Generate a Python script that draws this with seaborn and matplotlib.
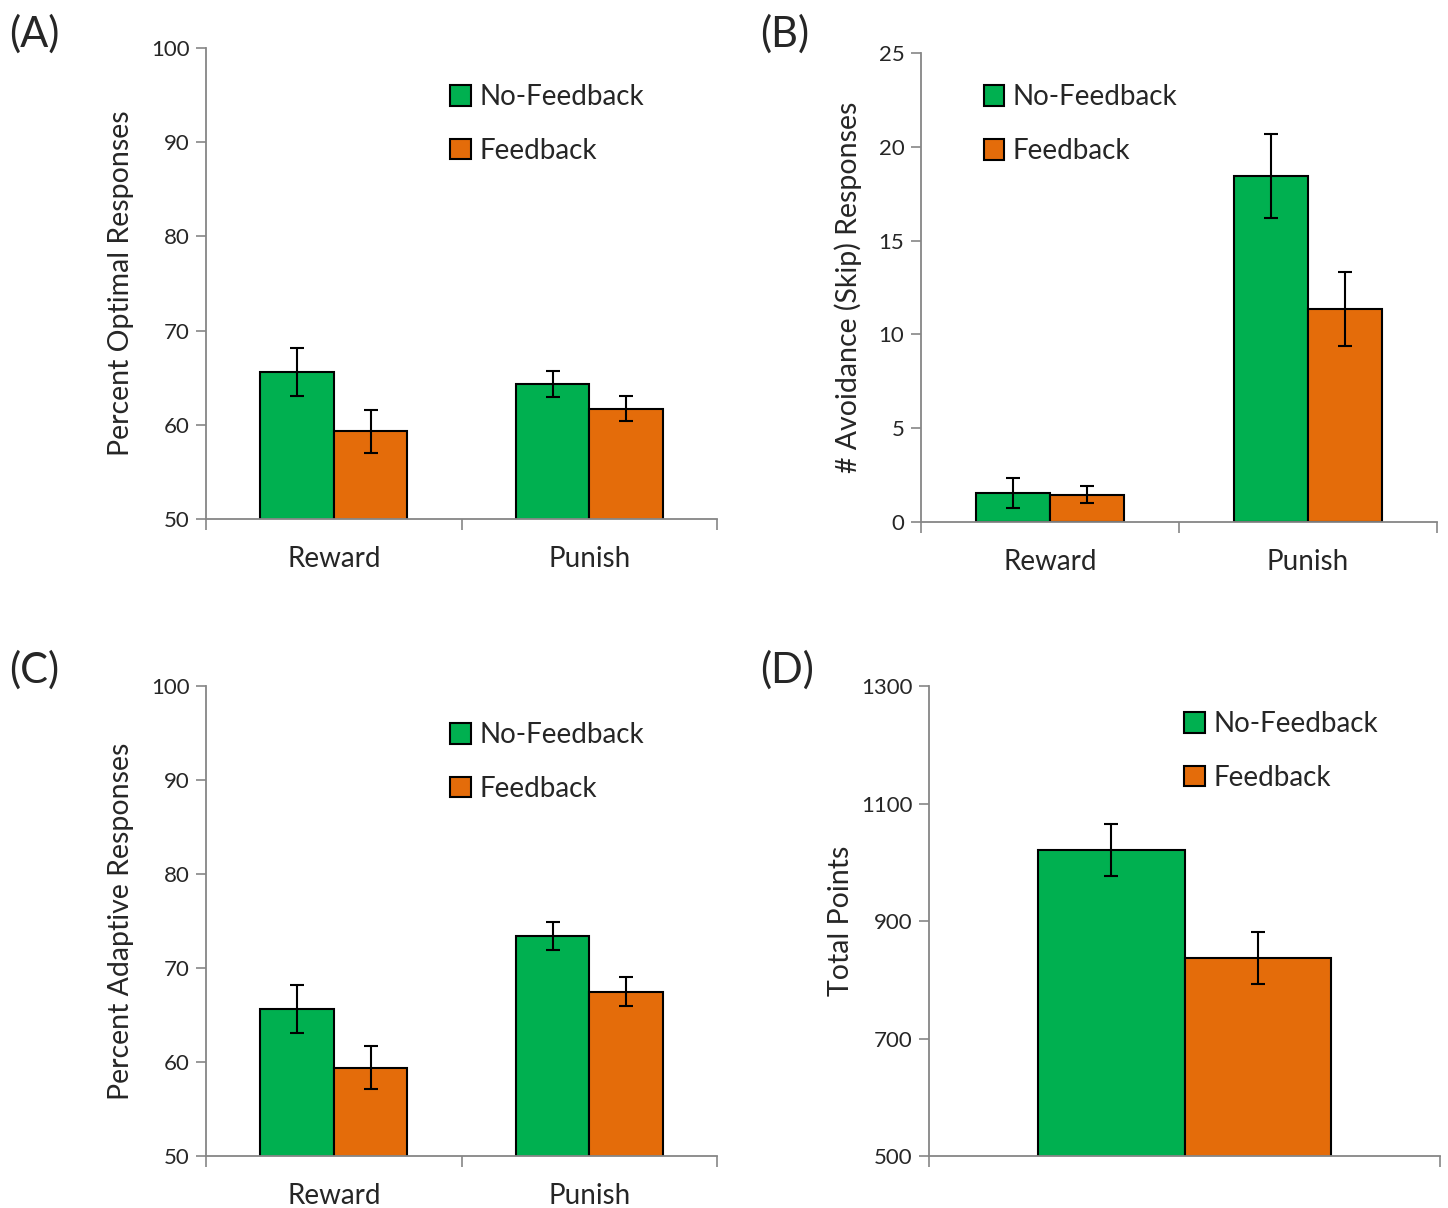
import numpy as np
import pandas as pd
import seaborn as sns
import matplotlib.pyplot as plt
from matplotlib.patches import Patch

sns.set_style("white")
plt.rcParams['font.family'] = ['Lato', 'DejaVu Sans']

groups = ["No-Feedback", "Feedback"]
colors = ["#00B050", "#E46C0A"]
conds = ["Reward", "Punish"]

# (A) percent optimal responses
optimal_nf = [65.6, 64.3]
optimal_f = [59.3, 61.7]
optimal_nf_err = [2.6, 1.4]
optimal_f_err = [2.3, 1.3]

# (B) avoidance (skip) responses
skip_nf = [1.55, 18.45]
skip_f = [1.45, 11.35]
skip_nf_err = [0.78, 2.25]
skip_f_err = [0.45, 1.95]

# (C) percent adaptive responses
adaptive_nf = [65.6, 73.4]
adaptive_f = [59.4, 67.5]
adaptive_nf_err = [2.55, 1.5]
adaptive_f_err = [2.3, 1.5]

# (D) total points
points_nf = [1021]
points_f = [837]
points_nf_err = [45]
points_f_err = [44]


def panel(ax, cats, nf, f, nf_err, f_err, ylim, yticks, ylabel, label_x,
          tag, tag_xy, leg_xy):
    df = pd.DataFrame({
        "cond": list(cats) * 2,
        "group": [groups[0]] * len(cats) + [groups[1]] * len(cats),
        "value": list(nf) + list(f),
    })
    sns.barplot(data=df, x="cond", y="value", hue="group", order=cats,
                hue_order=groups, palette=colors, saturation=1, width=0.575,
                gap=0, edgecolor="black", linewidth=1.5, errorbar=None,
                legend=False, ax=ax)
    for cont, err in zip(ax.containers, [nf_err, f_err]):
        xs = [p.get_x() + p.get_width() / 2 for p in cont.patches]
        ys = [p.get_height() + p.get_y() for p in cont.patches]
        ax.errorbar(xs, ys, yerr=err, fmt="none", ecolor="black",
                    elinewidth=1.5, capsize=5, capthick=1.5, zorder=5)

    ax.set_ylim(*ylim)
    ax.set_yticks(yticks)
    n = len(cats)
    ax.set_xlim(-0.5, n - 0.5)
    ax.set_xticks(np.arange(n + 1) - 0.5, minor=True)
    ax.tick_params(axis="x", which="major", bottom=False, labelsize=20, pad=16)
    ax.tick_params(axis="x", which="minor", bottom=True, length=8, width=1.2,
                   color="#868686", direction="out")
    ax.tick_params(axis="y", left=True, length=7, width=1.2, color="#868686",
                   direction="out", labelsize=16, pad=5)
    ax.set_xlabel("")
    ax.set_ylabel(ylabel, fontsize=20.5)
    ax.yaxis.set_label_coords(label_x, 0.5)
    for s in ["top", "right"]:
        ax.spines[s].set_visible(False)
    for s in ["left", "bottom"]:
        ax.spines[s].set_color("#868686")
        ax.spines[s].set_linewidth(1.3)

    handles = [Patch(facecolor=c, edgecolor="black", linewidth=1.5) for c in colors]
    ax.legend(handles, groups, loc="upper left", bbox_to_anchor=leg_xy,
              frameon=False, fontsize=20, handlelength=0.75, handleheight=0.75,
              handletextpad=0.3, labelspacing=1.0, borderaxespad=0)
    ax.figure.text(tag_xy[0], tag_xy[1], tag, fontsize=30, va="center", ha="left")


fig = plt.figure(figsize=(14.48, 12.08), dpi=100)
axA = fig.add_axes([0.1423, 0.5704, 0.3529, 0.3899])
axB = fig.add_axes([0.6360, 0.5679, 0.3564, 0.3882])
axC = fig.add_axes([0.1423, 0.0430, 0.3529, 0.3891])
axD = fig.add_axes([0.6416, 0.0430, 0.3529, 0.3891])

panel(axA, conds, optimal_nf, optimal_f, optimal_nf_err, optimal_f_err,
      (50, 100), [50, 60, 70, 80, 90, 100], "Percent Optimal Responses", -0.141,
      "(A)", (0.006, 0.972), (0.456, 0.947))
panel(axB, conds, skip_nf, skip_f, skip_nf_err, skip_f_err,
      (0, 25), [0, 5, 10, 15, 20, 25], "# Avoidance (Skip) Responses", -0.114,
      "(B)", (0.525, 0.972), (0.10, 0.957))
panel(axC, conds, adaptive_nf, adaptive_f, adaptive_nf_err, adaptive_f_err,
      (50, 100), [50, 60, 70, 80, 90, 100], "Percent Adaptive Responses", -0.141,
      "(C)", (0.006, 0.445), (0.456, 0.947))
panel(axD, [""], points_nf, points_f, points_nf_err, points_f_err,
      (500, 1300), [500, 700, 900, 1100, 1300], "Total Points", -0.147,
      "(D)", (0.525, 0.445), (0.478, 0.97))

fig.savefig("out.png", dpi=100)
